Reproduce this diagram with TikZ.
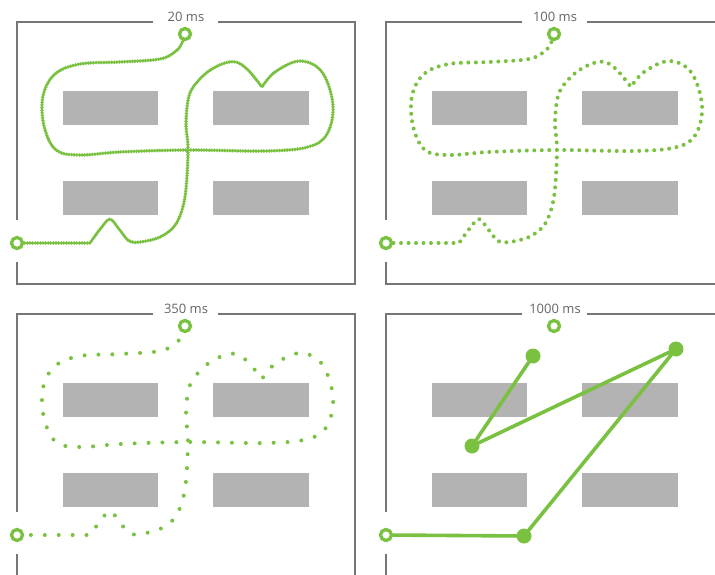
\documentclass[tikz,border=0pt]{standalone}
\usepackage{fontspec}
\setmainfont{Open Sans}
\definecolor{grn}{RGB}{122,193,66}
\definecolor{blk}{RGB}{179,179,179}
\definecolor{frm}{RGB}{118,118,118}
\definecolor{txt}{RGB}{100,100,100}
\tikzset{
  frame/.style={draw=frm, line width=1.8pt},
  block/.style={fill=blk, draw=none},
  ring/.style={circle, draw=grn, line width=3.3pt, fill=white, minimum size=11pt, inner sep=0pt},
  spot/.style={circle, fill=grn, minimum size=15pt, inner sep=0pt},
  lbl/.style={text=txt, font=\fontsize{13}{15}\selectfont, inner sep=0pt},
  beads/.style={draw=grn, line cap=round, line width=#1},
  seg/.style={draw=grn, line width=3.6pt, line cap=round}
}
\newcommand\drawpanel[2]{%
  \draw[frame] (17,220) -- (17,22) -- (153,22);
  \draw[frame] (218,22) -- (355,22) -- (355,284) -- (17,284) -- (17,262);
  \fill[block] (63,91) rectangle (158,125);
  \fill[block] (213,91) rectangle (309,125);
  \fill[block] (63,181) rectangle (158,215);
  \fill[block] (213,181) rectangle (309,215);
  \node[lbl] (#2lbl) at (186,17) {#1};
}
\newcommand\trail[1]{%
  \draw[#1] (17,243) -- (90,243)
    -- plot[smooth,tension=0.55] coordinates {(90,243) (101,228) (110,219) (119,229) (129,241) (140,242) (160,237) (176,224) (185,197) (188,150) (186,122) (190,93) (205,74) (222,64) (236,62) (248,70) (262,87)}
    -- plot[smooth,tension=0.6] coordinates {(262,87) (275,72) (300,61) (322,72) (333,105) (327,134) (308,147) (265,151) (188,150) (120,152) (80,155) (56,150) (44,126) (43,96) (55,74) (80,64) (120,62) (160,59) (176,51) (182,43) (185,34)};
}
\begin{document}
\begin{tikzpicture}[x=1pt,y=-1pt]
\useasboundingbox (0,0) rectangle (715,574);
\clip (0,0) rectangle (715,574);
% panel 1
\drawpanel{20 ms}{p}
\trail{beads=3.8pt, dash pattern=on 0pt off 2.6pt}
\node[ring] (s1) at (17,243) {};
\node[ring] (e1) at (185,34) {};
% panel 2
\begin{scope}[shift={(369,0)}]
\drawpanel{100 ms}{q}
\trail{beads=4pt, dash pattern=on 0pt off 7.5pt}
\node[ring] (s2) at (17,243) {};
\node[ring] (e2) at (185,34) {};
\end{scope}
% panel 3
\begin{scope}[shift={(0,292)}]
\drawpanel{350 ms}{r}
\trail{beads=4pt, dash pattern=on 0pt off 13.9pt}
\node[ring] (s3) at (17,243) {};
\node[ring] (e3) at (185,34) {};
\end{scope}
% panel 4
\begin{scope}[shift={(369,292)}]
\drawpanel{1000 ms}{t}
\node[spot] (a4) at (155,244) {};
\node[spot] (b4) at (307,57) {};
\node[spot] (c4) at (103,154) {};
\node[spot] (d4) at (164,64) {};
\node[ring] (s4) at (17,243) {};
\node[ring] (e4) at (185,34) {};
\draw[seg] (s4) -- (a4) -- (b4) -- (c4) -- (d4);
\end{scope}
\end{tikzpicture}
\end{document}
